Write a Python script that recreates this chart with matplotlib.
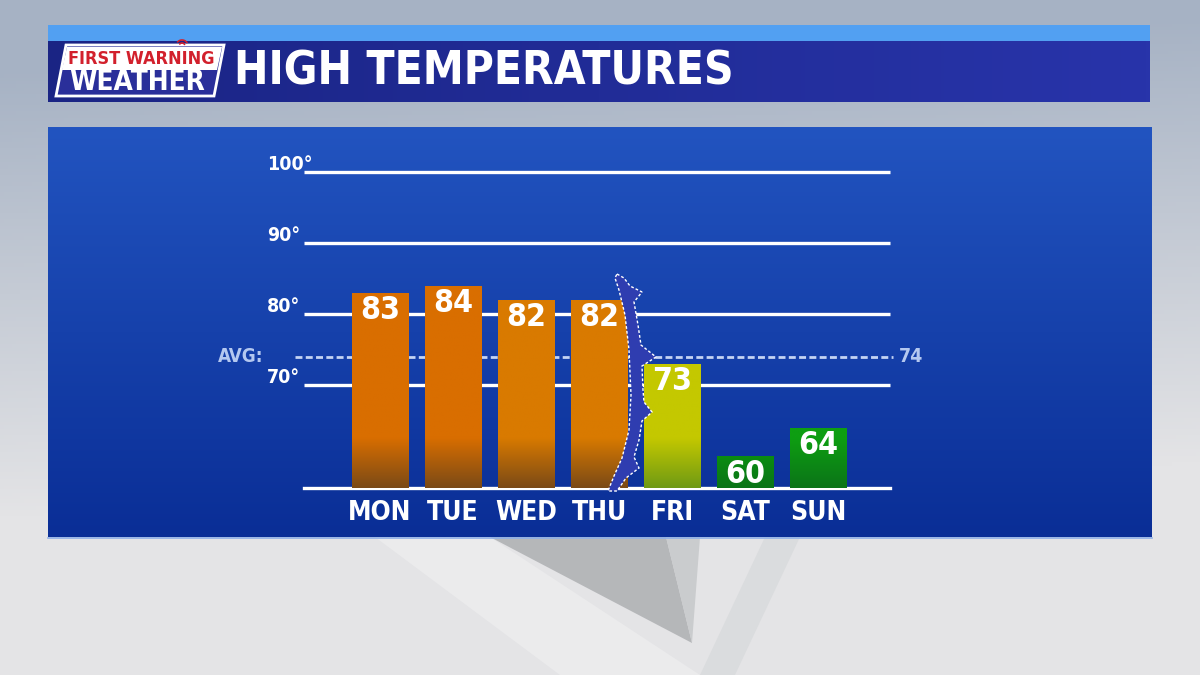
import matplotlib
matplotlib.use("Agg")
import matplotlib.pyplot as plt
import numpy as np
from matplotlib.patches import Rectangle, Polygon
from matplotlib import font_manager
from matplotlib.font_manager import FontProperties
import os

# --- data ---
days = ["MON", "TUE", "WED", "THU", "FRI", "SAT", "SUN"]
highs = [83, 84, 82, 82, 73, 60, 64]
grid_temps = [70, 80, 90, 100]
avg_temp = 74
title = "HIGH TEMPERATURES"

# colours per bar (top, bottom)
bar_top = ["#d96e00", "#d96e00", "#d97a00", "#d97a00", "#c4c800", "#0a9a0e", "#0e9e12"]
bar_bot = ["#7b4a16", "#7b4a16", "#7b4a16", "#7b4a16", "#6f9a14", "#0b7418", "#0b7418"]

# look for a bold condensed face on the system (DIN-like look)
cond_path = None
for p in sorted(font_manager.findSystemFonts()):
    n = os.path.basename(p).lower()
    if ("condensed" in n or "narrow" in n) and "bold" in n and "italic" not in n \
            and "oblique" not in n and "semi" not in n and "extra" not in n \
            and n.endswith(".ttf"):
        cond_path = p
        break


def fp(size):
    if cond_path:
        return FontProperties(fname=cond_path, size=size)
    return FontProperties(family="DejaVu Sans", weight="bold", size=size * 0.9)


W, H = 1200, 675
fig = plt.figure(figsize=(12, 6.75), dpi=100)

# --- background (pixel coordinates) ---
bg = fig.add_axes([0, 0, 1, 1])
bg.set_xlim(0, W)
bg.set_ylim(H, 0)
bg.axis("off")
yy = np.linspace(0, 1, 200)[:, None]
xx = np.linspace(0, 1, 300)[None, :]
top_c = np.array([166, 178, 196]) / 255
bot_c = np.array([228, 228, 230]) / 255
t = np.clip(yy * 1.5 - 0.15 + 0.12 * xx, 0, 1)
sky = top_c * (1 - t[..., None]) + bot_c * t[..., None]
bg.imshow(sky, extent=[0, W, H, 0], aspect="auto", zorder=0)
# grey shapes in the lower backdrop
bg.add_patch(Polygon([[375, 537], [490, 537], [700, 675], [560, 675]],
                     closed=True, color="#eeeeef", alpha=0.7, lw=0, zorder=1))
bg.add_patch(Polygon([[490, 537], [666, 537], [692, 643]],
                     closed=True, color="#a6a8ab", alpha=0.75, lw=0, zorder=1))
bg.add_patch(Polygon([[666, 537], [700, 537], [692, 643]],
                     closed=True, color="#c4c6c8", alpha=0.8, lw=0, zorder=1))
bg.add_patch(Polygon([[765, 537], [800, 537], [735, 675], [700, 675]],
                     closed=True, color="#d8dadc", alpha=0.8, lw=0, zorder=1))

# header band
bg.add_patch(Rectangle((48, 25), 1102, 16, color="#52a0f2", lw=0, zorder=2))
hdr = np.linspace(0, 1, 300)[None, :, None]
hdr_c = np.array([26, 36, 132]) / 255 * (1 - hdr) + np.array([40, 52, 170]) / 255 * hdr
hdr_c = hdr_c * np.ones((2, 1, 1))
bg.imshow(hdr_c, extent=[48, 1150, 102, 41], aspect="auto", zorder=2)

# logo
bg.add_patch(Polygon([[66, 45], [224, 45], [214, 96], [56, 96]], closed=True,
                     facecolor="#2a2f9a", edgecolor="white", lw=2, zorder=3))
bg.add_patch(Polygon([[67, 47], [222, 47], [217, 70], [62, 70]], closed=True,
                     facecolor="white", lw=0, zorder=3))
bg.text(141, 59, "FIRST WARNING", color="#d2202c", fontproperties=fp(13),
        ha="center", va="center", zorder=4)
bg.text(137, 82, "WEATHER", color="white", fontproperties=fp(20),
        ha="center", va="center", zorder=4)
for r in (3, 6):
    th = np.linspace(np.pi * 0.2, np.pi * 0.75, 20)
    bg.plot(182 + r * np.cos(th), 46 - r * np.sin(th), color="#d2202c", lw=1.2, zorder=4)
bg.text(234, 72, title, color="white", fontproperties=fp(33),
        ha="left", va="center", zorder=4)

# chart panel
pan = np.linspace(0, 1, 200)[:, None, None]
pan_c = np.array([34, 84, 192]) / 255 * (1 - pan) + np.array([10, 46, 150]) / 255 * pan
pan_c = pan_c * np.ones((1, 2, 1))
bg.imshow(pan_c, extent=[48, 1152, 537, 127], aspect="auto", zorder=2)
bg.plot([48, 1152], [538, 538], color="#8fb0e8", lw=1.2, zorder=2)

# --- chart axes: data coordinates ---
PX0, PDX = 380, 73.0      # pixel x of first bar, spacing
PY70, PDY = 385, 7.1      # pixel y of 70 degrees, px per degree
ax_l, ax_r, ax_t, ax_b = 200, 940, 150, 530
ax = fig.add_axes([ax_l / W, (H - ax_b) / H, (ax_r - ax_l) / W, (ax_b - ax_t) / H])
ax.set_xlim((ax_l - PX0) / PDX, (ax_r - PX0) / PDX)
ax.set_ylim(70 - (ax_b - PY70) / PDY, 70 + (PY70 - ax_t) / PDY)
ax.axis("off")
ax.patch.set_alpha(0)


def px(x, y):
    return (x - PX0) / PDX, 70 + (PY70 - y) / PDY


base = 55.5
x = np.arange(len(days))
gx0, gx1 = px(304, 0)[0], px(890, 0)[0]
for g in grid_temps:
    ax.plot([gx0, gx1], [g, g], color="white", lw=2.4, solid_capstyle="butt", zorder=1)
    ax.text(px(267, 0)[0], g + 1.0, f"{g}°", color="white", fontproperties=fp(14),
            ha="left", va="center")
ax.plot([gx0, gx1], [base, base], color="white", lw=2.4, zorder=1)
ax.plot([px(295, 0)[0], px(893, 0)[0]], [avg_temp, avg_temp], color="#c4d4f4",
        lw=2.0, dashes=(2.5, 1.2), zorder=1)
ax.text(px(263, 0)[0], avg_temp, "AVG:", color="#b4c8f0", fontproperties=fp(13.5),
        ha="right", va="center")
ax.text(px(899, 0)[0], avg_temp, f"{avg_temp}", color="#b4c8f0", fontproperties=fp(14),
        ha="left", va="center")

bw = 57 / PDX
bars = ax.bar(x, np.array(highs) - base, bottom=base, width=bw, color="none", lw=0, zorder=2)
for i, b in enumerate(bars):
    top = highs[i]
    ys = np.linspace(top, base, 120)
    f = np.clip((62.5 - ys) / 7.0, 0, 1)[:, None, None]
    c0 = np.array(matplotlib.colors.to_rgb(bar_top[i]))
    c1 = np.array(matplotlib.colors.to_rgb(bar_bot[i]))
    img = (c0 * (1 - f) + c1 * f) * np.ones((1, 2, 1))
    im = ax.imshow(img, extent=[x[i] - bw / 2, x[i] + bw / 2, base, top],
                   aspect="auto", zorder=2, interpolation="bilinear")
    im.set_clip_path(b)
    ax.annotate(f"{top}", (x[i], top), xytext=(0, -13), textcoords="offset points",
                color="white", fontproperties=fp(23), ha="center", va="center", zorder=4)
    ax.text(x[i], px(0, 513)[1], days[i], color="white", fontproperties=fp(19),
            ha="center", va="center")

# cold front between THU and FRI
front_px = [(617, 274), (624, 278), (630, 286), (642, 292), (634, 302), (638, 325),
            (641, 345), (656, 357), (642, 366), (643, 390), (644, 402), (652, 412),
            (642, 421), (639, 440), (634, 457), (639, 468), (626, 478), (617, 491),
            (608, 491), (614, 476), (622, 458), (629, 430), (631, 395), (629, 350),
            (625, 315), (619, 290), (615, 278)]
ax.add_patch(Polygon([px(a, b) for a, b in front_px], closed=True,
                     facecolor="#2f3db0", edgecolor="white", lw=1.0,
                     linestyle=(0, (2, 1.5)), zorder=3))

fig.savefig("out.png", dpi=100)
